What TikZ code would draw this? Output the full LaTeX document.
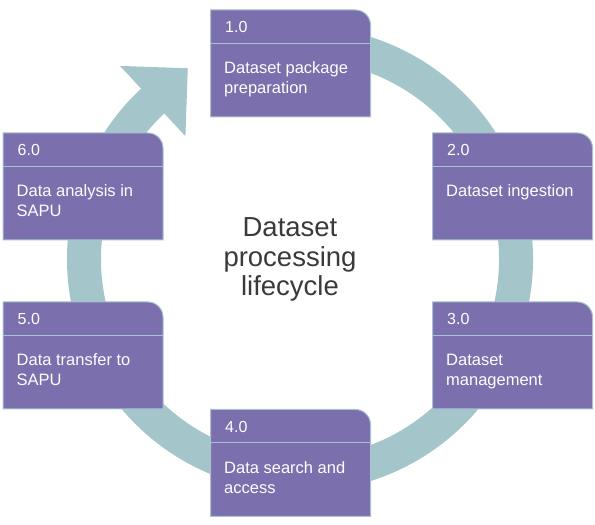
\documentclass[tikz,border=0pt]{standalone}
\usepackage{fontspec}
\setmainfont{Liberation Sans}
\definecolor{cardfill}{HTML}{7B6FAD}
\definecolor{cardline}{HTML}{A9C2D2}
\definecolor{ringcol}{HTML}{A4C5C9}
\definecolor{titlegrey}{HTML}{3A3A3A}
\tikzset{
  card/.style={fill=cardfill, draw=cardline, line width=1pt},
  cardrule/.style={draw=cardline, line width=1pt},
  cardnum/.style={anchor=base west, text=white, inner sep=0pt, font=\fontsize{16}{19}\selectfont},
  cardtext/.style={anchor=base west, text=white, inner sep=0pt, align=left, font=\fontsize{16.5}{20}\selectfont},
}
\begin{document}
\begin{tikzpicture}[x=1pt,y=1pt]
        \useasboundingbox (0,0) rectangle (595,525);
        \coordinate (O) at (300,266);
        \coordinate (headin) at ([shift={(133:168)}]O);
        \coordinate (headout) at ([shift={(133:264)}]O);
        \coordinate (headmid) at ([shift={(133:216)}]O);
        \coordinate (headtip) at ([shift={(43:48)}]headmid);
        % Ring, clockwise from under the first card
        \draw[ringcol, line width=34pt] ([shift={(105:216)}]O) arc[start angle=105, end angle=-227.5, radius=216];
        % Arrow head back to the first card
        \fill[ringcol] (headin) -- (headout) -- (headtip) -- cycle;
        % Card 1.0 (text nodes sit on the baseline of their last line)
        \draw[card] (210.5,408) -- ++(0,107) -- ++(145,0) arc[start angle=90, end angle=0, radius=15] -- ++(0,-92) -- cycle;
        \draw[cardrule] (210.5,481.5) -- ++(160,0);
        \node[cardnum] (n1) at (225,492) {1.0};
        \node[cardtext] (t1) at (224,431) {Dataset package\\preparation};
        % Card 2.0
        \draw[card] (432.5,285) -- ++(0,107) -- ++(145,0) arc[start angle=90, end angle=0, radius=15] -- ++(0,-92) -- cycle;
        \draw[cardrule] (432.5,358.5) -- ++(160,0);
        \node[cardnum] (n2) at (447,369) {2.0};
        \node[cardtext] (t2) at (446,328) {Dataset ingestion};
        % Card 3.0
        \draw[card] (432.5,116) -- ++(0,107) -- ++(145,0) arc[start angle=90, end angle=0, radius=15] -- ++(0,-92) -- cycle;
        \draw[cardrule] (432.5,189.5) -- ++(160,0);
        \node[cardnum] (n3) at (447,200) {3.0};
        \node[cardtext] (t3) at (446,139) {Dataset\\management};
        % Card 4.0
        \draw[card] (210.5,8.5) -- ++(0,107) -- ++(145,0) arc[start angle=90, end angle=0, radius=15] -- ++(0,-92) -- cycle;
        \draw[cardrule] (210.5,82) -- ++(160,0);
        \node[cardnum] (n4) at (225,92.5) {4.0};
        \node[cardtext] (t4) at (224,31.5) {Data search and\\access};
        % Card 5.0
        \draw[card] (3,116) -- ++(0,107) -- ++(145,0) arc[start angle=90, end angle=0, radius=15] -- ++(0,-92) -- cycle;
        \draw[cardrule] (3,189.5) -- ++(160,0);
        \node[cardnum] (n5) at (17.5,200) {5.0};
        \node[cardtext] (t5) at (16.5,139) {Data transfer to\\SAPU};
        % Card 6.0
        \draw[card] (3,285) -- ++(0,107) -- ++(145,0) arc[start angle=90, end angle=0, radius=15] -- ++(0,-92) -- cycle;
        \draw[cardrule] (3,358.5) -- ++(160,0);
        \node[cardnum] (n6) at (17.5,369) {6.0};
        \node[cardtext] (t6) at (16.5,308) {Data analysis in\\SAPU};
        % Centre title
        \node[anchor=base, align=center, inner sep=0pt, text=titlegrey, font=\fontsize{27.5}{29.5}\selectfont] (title) at (290,229) {Dataset\\processing\\lifecycle};
    \end{tikzpicture}
\end{document}
